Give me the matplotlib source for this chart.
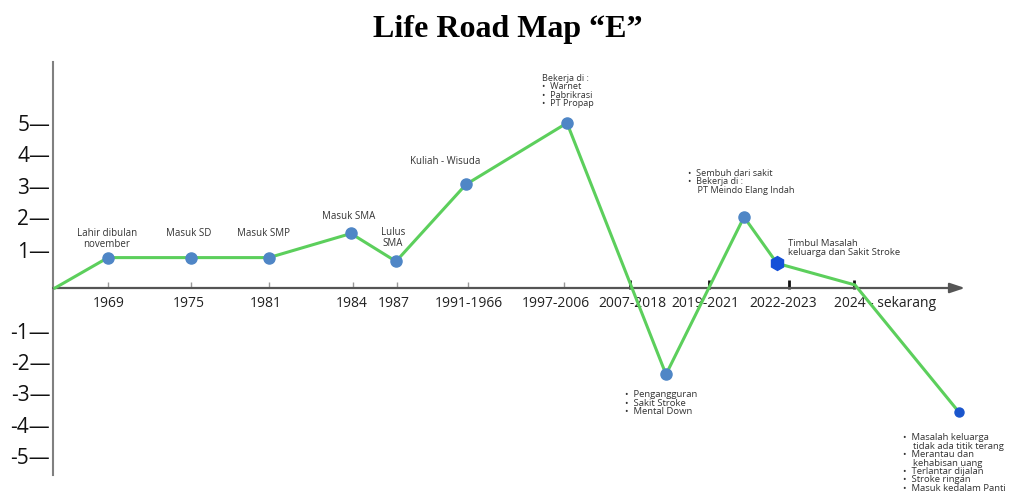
import numpy as np
import matplotlib
matplotlib.use("Agg")
import matplotlib.pyplot as plt

# ---- data -------------------------------------------------------------
# timeline positions (along the arrow) and life "score" of each event
point_x = [0.2, 5.5, 13.8, 21.6, 29.8, 34.3, 41.3, 51.4, 61.3, 69.1, 72.4, 80.2, 90.6]
point_y = [0.0, 0.8, 0.8, 0.8, 1.5, 0.7, 3.05, 5.0, -2.4, 2.0, 0.65, 0.08, -3.6]
# which points carry a marker: 0 none, 1 normal, 2 dark hexagon, 3 dark small
point_kind = [0, 1, 1, 1, 1, 1, 1, 1, 1, 1, 2, 0, 3]

period_labels = ["1969", "1975", "1981", "1984", "1987", "1991-1966", "1997-2006",
                 "2007-2018", "2019-2021", "2022-2023", "2024 - sekarang"]
period_ticks = [5.5, 13.8, 21.6, 30.0, 34.4, 41.5, 51.1, 57.7, 65.6, 73.6, 80.1]

y_tick_values = [-5, -4, -3, -2, -1, 0, 1, 2, 3, 4, 5]
y_tick_labels = ["-5—", "-4—", "-3—", "-2—", "-1—", "", "1—", "2—", "3—", "4—", "5—"]

# ---- hand drawn (uneven) vertical scale ---------------------------------
scale_vals = np.array([-20, -5, -4, -3, -2, -1, 0, 1, 2, 3, 4, 5, 20], float)
scale_pix = np.array([921, 456, 425, 393, 362, 331, 288, 250, 217, 186, 154.5, 123, -349.5], float)
scale_pos = 288 - scale_pix


def fwd(v):
    return np.interp(v, scale_vals, scale_pos)


def inv(p):
    return np.interp(p, scale_pos, scale_vals)


W, H = 1012, 495
fig = plt.figure(figsize=(W / 100, H / 100), dpi=100)
L, R, T, B = 53, 975, 62, 475
ax = fig.add_axes([L / W, 1 - B / H, (R - L) / W, (B - T) / H])
ax.set_yscale("function", functions=(fwd, inv))
ax.set_xlim(0, (R - L) / 10)
ax.set_ylim(inv(288 - B), inv(288 - T))

font = "Open Sans"
green = "#5ccf5c"
blue = "#4f86c6"

for s in ["top", "right", "bottom"]:
    ax.spines[s].set_visible(False)
ax.spines["left"].set_color("#808080")
ax.spines["left"].set_linewidth(1.5)

ax.set_yticks(y_tick_values)
ax.set_yticklabels(y_tick_labels, fontsize=15, family=font, color="#111111")
ax.tick_params(axis="y", length=0, pad=2)
ax.set_xticks([])
ax.yaxis.set_minor_locator(matplotlib.ticker.NullLocator())

# x axis arrow
ax.annotate("", xy=(91.2, 0), xytext=(0, 0),
            arrowprops=dict(arrowstyle="-|>,head_length=0.9,head_width=0.3",
                            color="#555555", lw=1.6, shrinkA=0, shrinkB=0))

# tick marks
for i, xt in enumerate(period_ticks):
    if i < 7:
        ax.vlines(xt, 0, 0.16, color="#999999", lw=1.0, zorder=2)
    else:
        ax.vlines(xt, -0.02, 0.2, color="#111111", lw=2.0, zorder=2)

# period labels
label_shift = [0.1, -0.2, -0.3, -0.1, -0.3, 0.1, -0.8, 0.2, -0.4, -0.6, 3.1]
for lab, xt, dx in zip(period_labels, period_ticks, label_shift):
    ax.text(xt + dx, inv(288 - 304), lab, ha="center", va="center",
            fontsize=10, family=font, color="#222222")

# line and markers
ax.plot(point_x, point_y, color=green, lw=2.2, zorder=3, solid_joinstyle="round")
for x, y, k in zip(point_x, point_y, point_kind):
    if k == 1:
        ax.plot(x, y, "o", color=blue, ms=8, mec=blue, zorder=4)
    elif k == 2:
        ax.plot(x, y, "h", color="#1450d8", ms=10, mec="#1450d8", zorder=4)
    elif k == 3:
        ax.plot(x, y, "o", color="#1a55cc", ms=6.5, zorder=4)

# ---- annotations (pixel layout) ----
tc = "#333333"


def ftext(px, py, s, ha="center", va="center", size=7, ls=1.0, **kw):
    fig.text(px / W, 1 - py / H, s, ha=ha, va=va, fontsize=size, family=font,
             color=tc, linespacing=ls, **kw)


ftext(107, 239, "Lahir dibulan\nnovember", ls=0.95)
ftext(189, 234, "Masuk SD")
ftext(264, 234, "Masuk SMP")
ftext(349, 217, "Masuk SMA")
ftext(393, 238, "Lulus\nSMA", ls=0.95)
ftext(445, 162, "Kuliah - Wisuda")
ftext(542, 91, "Bekerja di :\n•  Warnet\n•  Pabrikrasi\n•  PT Propap",
      ha="left", size=6.6, ls=0.92)
ftext(688, 182, "•  Sembuh dari sakit\n•  Bekerja di :\n    PT Meindo Elang Indah",
      ha="left", size=6.6, ls=0.92)
ftext(788, 248, "Timbul Masalah\nkeluarga dan Sakit Stroke", ha="left", size=6.8, ls=0.92)
ftext(625, 403, "•  Pengangguran\n•  Sakit Stroke\n•  Mental Down",
      ha="left", size=6.8, ls=0.9)
ftext(903, 463, "•  Masalah keluarga\n    tidak ada titik terang\n•  Merantau dan\n"
      "    kehabisan uang\n•  Terlantar dijalan\n•  Stroke ringan\n•  Masuk kedalam Panti",
      ha="left", size=6.8, ls=0.92)

fig.text(508 / W, 1 - 29 / H, "Life Road Map “E”", ha="center", va="center",
         fontsize=23, family="Liberation Serif", weight="bold", color="black")

fig.savefig("out.png", dpi=100, facecolor="white")
